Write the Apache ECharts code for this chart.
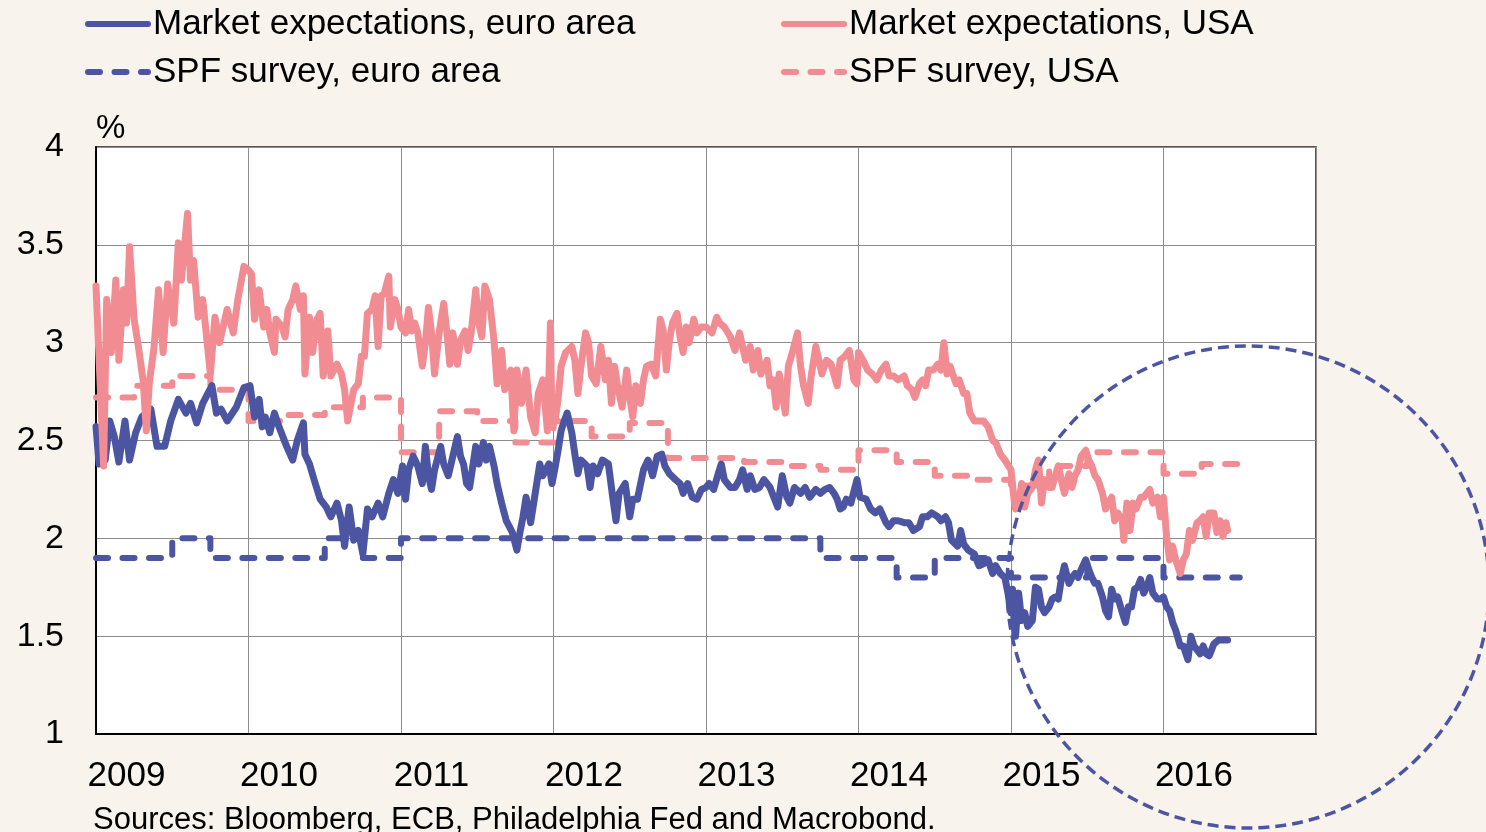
<!DOCTYPE html>
<html>
<head>
<meta charset="utf-8">
<title>Inflation expectations</title>
<script src="https://cdn.jsdelivr.net/npm/echarts@6/dist/echarts.min.js"></script>
<style>
html, body { margin: 0; padding: 0; background: #f8f3ed; }
#chart { width: 1486px; height: 832px; }
</style>
</head>
<body>
<div id="chart"></div>
<script>
// x values are decimal years
var yearLabels = [2009, 2010, 2011, 2012, 2013, 2014, 2015, 2016];

var euroMarket = [
  [2009.00, 2.57], [2009.02, 2.38], [2009.06, 2.40], [2009.09, 2.60], [2009.12, 2.52], [2009.15, 2.39],
  [2009.19, 2.60], [2009.22, 2.40], [2009.26, 2.54], [2009.30, 2.62], [2009.36, 2.66], [2009.40, 2.47],
  [2009.45, 2.47], [2009.49, 2.60], [2009.54, 2.71], [2009.59, 2.64], [2009.62, 2.69], [2009.66, 2.59],
  [2009.70, 2.69], [2009.76, 2.78], [2009.79, 2.64], [2009.82, 2.66], [2009.86, 2.60], [2009.92, 2.67],
  [2009.97, 2.77],
  [2010.01, 2.78], [2010.04, 2.62], [2010.07, 2.71], [2010.09, 2.57], [2010.11, 2.62], [2010.14, 2.54],
  [2010.17, 2.64], [2010.20, 2.57], [2010.25, 2.47], [2010.29, 2.40], [2010.32, 2.50], [2010.36, 2.59],
  [2010.37, 2.43], [2010.40, 2.38], [2010.43, 2.30], [2010.47, 2.20], [2010.51, 2.16], [2010.54, 2.11],
  [2010.58, 2.18], [2010.61, 2.09], [2010.63, 1.96], [2010.66, 2.16], [2010.69, 1.99], [2010.72, 2.04],
  [2010.75, 1.92], [2010.78, 2.15], [2010.81, 2.11], [2010.85, 2.18], [2010.88, 2.11], [2010.92, 2.23],
  [2010.95, 2.30], [2010.98, 2.23],
  [2011.01, 2.37], [2011.02, 2.28], [2011.03, 2.20], [2011.05, 2.35], [2011.08, 2.42], [2011.11, 2.37],
  [2011.14, 2.28], [2011.16, 2.47], [2011.18, 2.32], [2011.20, 2.25], [2011.22, 2.35], [2011.26, 2.47],
  [2011.28, 2.38], [2011.31, 2.32], [2011.34, 2.42], [2011.37, 2.52], [2011.39, 2.42], [2011.41, 2.38],
  [2011.43, 2.28], [2011.45, 2.26], [2011.49, 2.47], [2011.51, 2.38], [2011.54, 2.49], [2011.56, 2.40],
  [2011.58, 2.47], [2011.61, 2.37], [2011.63, 2.28], [2011.66, 2.18], [2011.69, 2.09], [2011.73, 2.03],
  [2011.76, 1.94], [2011.78, 2.03], [2011.80, 2.11], [2011.82, 2.21], [2011.85, 2.08], [2011.87, 2.18],
  [2011.89, 2.28], [2011.91, 2.38], [2011.93, 2.32], [2011.97, 2.38], [2011.99, 2.28],
  [2012.01, 2.36], [2012.03, 2.45], [2012.05, 2.55], [2012.07, 2.60], [2012.09, 2.64], [2012.12, 2.54],
  [2012.14, 2.43], [2012.16, 2.33], [2012.18, 2.40], [2012.22, 2.37], [2012.24, 2.26], [2012.26, 2.37],
  [2012.29, 2.33], [2012.32, 2.40], [2012.36, 2.38], [2012.39, 2.20], [2012.41, 2.09], [2012.43, 2.23],
  [2012.47, 2.28], [2012.50, 2.11], [2012.52, 2.20], [2012.55, 2.20], [2012.59, 2.35], [2012.62, 2.40],
  [2012.65, 2.32], [2012.68, 2.42], [2012.71, 2.43], [2012.73, 2.37], [2012.76, 2.33], [2012.80, 2.30],
  [2012.83, 2.28], [2012.85, 2.23], [2012.88, 2.28], [2012.91, 2.21], [2012.94, 2.20], [2012.97, 2.25],
  [2013.00, 2.26], [2013.02, 2.28], [2013.05, 2.25], [2013.08, 2.33], [2013.10, 2.38], [2013.12, 2.30],
  [2013.16, 2.26], [2013.19, 2.26], [2013.22, 2.30], [2013.24, 2.35], [2013.27, 2.25], [2013.29, 2.32],
  [2013.32, 2.25], [2013.35, 2.26], [2013.38, 2.30], [2013.42, 2.26], [2013.45, 2.20], [2013.47, 2.16],
  [2013.50, 2.32], [2013.53, 2.21], [2013.55, 2.18], [2013.58, 2.26], [2013.62, 2.23], [2013.65, 2.26],
  [2013.68, 2.21], [2013.72, 2.25], [2013.75, 2.23], [2013.78, 2.25], [2013.81, 2.26], [2013.84, 2.23],
  [2013.86, 2.20], [2013.88, 2.15], [2013.90, 2.16], [2013.92, 2.20], [2013.95, 2.18], [2013.99, 2.30],
  [2014.01, 2.21], [2014.05, 2.20], [2014.08, 2.15], [2014.11, 2.13], [2014.14, 2.15], [2014.18, 2.08],
  [2014.20, 2.06], [2014.23, 2.09], [2014.26, 2.09], [2014.30, 2.08], [2014.33, 2.08], [2014.36, 2.04],
  [2014.40, 2.06], [2014.42, 2.11], [2014.45, 2.11], [2014.48, 2.13], [2014.52, 2.11], [2014.54, 2.09],
  [2014.57, 2.11], [2014.59, 2.08], [2014.61, 1.99], [2014.65, 1.96], [2014.67, 2.04], [2014.69, 1.97],
  [2014.72, 1.94], [2014.76, 1.92], [2014.79, 1.86], [2014.82, 1.87], [2014.85, 1.89], [2014.88, 1.82],
  [2014.90, 1.86], [2014.93, 1.82], [2014.96, 1.80], [2014.98, 1.72],
  [2015.00, 1.62], [2015.01, 1.74], [2015.02, 1.58], [2015.03, 1.50], [2015.05, 1.72], [2015.07, 1.58],
  [2015.09, 1.62], [2015.11, 1.55], [2015.14, 1.58], [2015.16, 1.75], [2015.18, 1.74], [2015.20, 1.65],
  [2015.22, 1.62], [2015.25, 1.65], [2015.27, 1.69], [2015.29, 1.70], [2015.31, 1.69], [2015.33, 1.79],
  [2015.35, 1.86], [2015.38, 1.77], [2015.40, 1.80], [2015.42, 1.82], [2015.44, 1.80], [2015.46, 1.84],
  [2015.49, 1.89], [2015.51, 1.84], [2015.53, 1.80], [2015.55, 1.77], [2015.57, 1.77], [2015.60, 1.70],
  [2015.62, 1.63], [2015.64, 1.60], [2015.66, 1.74], [2015.68, 1.69], [2015.70, 1.70], [2015.73, 1.62],
  [2015.75, 1.57], [2015.77, 1.65], [2015.79, 1.65], [2015.81, 1.74], [2015.83, 1.75], [2015.85, 1.79],
  [2015.87, 1.72], [2015.89, 1.75], [2015.91, 1.80], [2015.93, 1.72], [2015.96, 1.69], [2015.98, 1.69],
  [2016.00, 1.70], [2016.02, 1.65], [2016.04, 1.63], [2016.06, 1.57], [2016.08, 1.53], [2016.11, 1.45],
  [2016.13, 1.45], [2016.16, 1.38], [2016.18, 1.50], [2016.20, 1.45], [2016.24, 1.41], [2016.26, 1.45],
  [2016.28, 1.41], [2016.30, 1.40], [2016.33, 1.46], [2016.36, 1.48], [2016.39, 1.48], [2016.42, 1.48]
];

var usaMarket = [
  [2009.00, 3.29], [2009.05, 2.37], [2009.07, 3.22], [2009.10, 2.95], [2009.13, 3.32], [2009.15, 2.91],
  [2009.18, 3.27], [2009.20, 3.10], [2009.22, 3.49], [2009.25, 3.12], [2009.28, 2.97], [2009.31, 2.80],
  [2009.33, 2.55], [2009.35, 2.80], [2009.38, 2.97], [2009.41, 3.27], [2009.44, 2.95], [2009.47, 3.30],
  [2009.51, 3.10], [2009.54, 3.51], [2009.56, 3.32], [2009.60, 3.66], [2009.62, 3.32], [2009.64, 3.42],
  [2009.67, 3.13], [2009.70, 3.22], [2009.75, 2.84], [2009.78, 3.13], [2009.81, 3.00], [2009.86, 3.17],
  [2009.90, 3.05], [2009.93, 3.22], [2009.97, 3.39],
  [2010.00, 3.37], [2010.02, 3.35], [2010.04, 3.12], [2010.07, 3.27], [2010.10, 3.08], [2010.12, 3.17],
  [2010.14, 3.05], [2010.17, 2.95], [2010.18, 3.12], [2010.22, 3.08], [2010.24, 3.03], [2010.26, 3.17],
  [2010.29, 3.22], [2010.31, 3.29], [2010.34, 3.17], [2010.36, 3.24], [2010.37, 2.84], [2010.40, 3.13],
  [2010.42, 2.95], [2010.45, 3.12], [2010.47, 3.15], [2010.49, 2.83], [2010.52, 3.06], [2010.54, 2.83],
  [2010.58, 2.89], [2010.61, 2.84], [2010.63, 2.76], [2010.65, 2.60], [2010.69, 2.76], [2010.72, 2.79],
  [2010.74, 2.93], [2010.76, 2.93], [2010.78, 3.15], [2010.81, 3.17], [2010.83, 3.24], [2010.85, 2.98],
  [2010.87, 3.24], [2010.89, 3.25], [2010.92, 3.34], [2010.93, 3.08], [2010.96, 3.22], [2010.98, 3.17],
  [2011.00, 3.08], [2011.03, 3.05], [2011.05, 3.17], [2011.07, 3.06], [2011.09, 3.10], [2011.11, 3.05],
  [2011.14, 2.88], [2011.16, 3.00], [2011.18, 3.18], [2011.20, 3.05], [2011.22, 2.84], [2011.25, 3.05],
  [2011.28, 3.20], [2011.30, 3.06], [2011.32, 2.89], [2011.34, 3.05], [2011.37, 2.89], [2011.39, 3.01],
  [2011.42, 3.06], [2011.44, 2.96], [2011.46, 3.05], [2011.49, 3.27], [2011.51, 3.10], [2011.53, 3.03],
  [2011.55, 3.29], [2011.58, 3.22], [2011.61, 3.01], [2011.63, 2.79], [2011.66, 2.96], [2011.68, 2.76],
  [2011.72, 2.86], [2011.74, 2.55], [2011.76, 2.86], [2011.79, 2.69], [2011.82, 2.86], [2011.85, 2.62],
  [2011.88, 2.54], [2011.90, 2.74], [2011.93, 2.81], [2011.96, 2.55], [2011.98, 3.10], [2011.99, 2.57],
  [2012.01, 2.60], [2012.03, 2.71], [2012.05, 2.88], [2012.08, 2.95], [2012.12, 2.98], [2012.14, 2.91],
  [2012.16, 2.74], [2012.18, 2.88], [2012.21, 3.05], [2012.23, 3.00], [2012.25, 2.83], [2012.28, 2.79],
  [2012.31, 2.98], [2012.34, 2.81], [2012.36, 2.91], [2012.38, 2.69], [2012.40, 2.88], [2012.42, 2.78],
  [2012.45, 2.67], [2012.48, 2.86], [2012.50, 2.72], [2012.52, 2.62], [2012.54, 2.78], [2012.57, 2.69],
  [2012.59, 2.81], [2012.61, 2.88], [2012.64, 2.89], [2012.67, 2.83], [2012.70, 3.12], [2012.72, 3.06],
  [2012.74, 2.86], [2012.76, 3.01], [2012.78, 3.10], [2012.81, 3.15], [2012.83, 3.03], [2012.85, 2.95],
  [2012.87, 3.08], [2012.89, 3.00], [2012.92, 3.12], [2012.94, 3.05], [2012.97, 3.08],
  [2013.00, 3.08], [2013.04, 3.05], [2013.07, 3.13], [2013.09, 3.10], [2013.12, 3.08], [2013.16, 3.03],
  [2013.19, 2.96], [2013.22, 3.05], [2013.26, 2.91], [2013.29, 2.98], [2013.31, 2.86], [2013.34, 2.96],
  [2013.36, 2.84], [2013.40, 2.91], [2013.42, 2.78], [2013.44, 2.81], [2013.46, 2.67], [2013.48, 2.84],
  [2013.52, 2.64], [2013.54, 2.88], [2013.57, 2.96], [2013.60, 3.05], [2013.62, 2.88], [2013.64, 2.78],
  [2013.67, 2.69], [2013.69, 2.83], [2013.72, 2.98], [2013.74, 2.91], [2013.76, 2.84], [2013.79, 2.91],
  [2013.82, 2.89], [2013.86, 2.78], [2013.88, 2.91], [2013.91, 2.93], [2013.94, 2.96], [2013.97, 2.81],
  [2013.99, 2.79],
  [2014.00, 2.95], [2014.03, 2.91], [2014.06, 2.86], [2014.09, 2.84], [2014.12, 2.81], [2014.15, 2.86],
  [2014.18, 2.89], [2014.20, 2.83], [2014.23, 2.83], [2014.26, 2.81], [2014.30, 2.83], [2014.32, 2.78],
  [2014.35, 2.76], [2014.37, 2.72], [2014.40, 2.79], [2014.42, 2.81], [2014.44, 2.78], [2014.46, 2.86],
  [2014.49, 2.86], [2014.52, 2.89], [2014.54, 2.86], [2014.56, 3.00], [2014.58, 2.84], [2014.60, 2.88],
  [2014.64, 2.79], [2014.66, 2.81], [2014.69, 2.74], [2014.71, 2.74], [2014.73, 2.64], [2014.76, 2.60],
  [2014.79, 2.60], [2014.82, 2.60], [2014.85, 2.57], [2014.88, 2.50], [2014.90, 2.49], [2014.93, 2.43],
  [2014.96, 2.40], [2015.00, 2.35], [2015.02, 2.20], [2015.03, 2.15],
  [2015.05, 2.18], [2015.07, 2.28], [2015.09, 2.16], [2015.11, 2.23], [2015.14, 2.26], [2015.16, 2.35],
  [2015.18, 2.40], [2015.20, 2.18], [2015.22, 2.30], [2015.25, 2.26], [2015.27, 2.26], [2015.29, 2.32],
  [2015.31, 2.37], [2015.33, 2.30], [2015.35, 2.23], [2015.38, 2.33], [2015.40, 2.26], [2015.42, 2.32],
  [2015.44, 2.35], [2015.46, 2.42], [2015.49, 2.45], [2015.51, 2.40], [2015.53, 2.37], [2015.55, 2.32],
  [2015.57, 2.30], [2015.60, 2.23], [2015.62, 2.15], [2015.64, 2.18], [2015.66, 2.21], [2015.68, 2.09],
  [2015.70, 2.13], [2015.73, 2.09], [2015.74, 1.99], [2015.76, 2.18], [2015.78, 2.04], [2015.80, 2.18],
  [2015.82, 2.15], [2015.85, 2.21], [2015.87, 2.21], [2015.89, 2.23], [2015.91, 2.25], [2015.93, 2.18],
  [2015.96, 2.21], [2015.98, 2.11],
  [2016.00, 2.21], [2016.02, 2.01], [2016.04, 1.89], [2016.06, 1.96], [2016.08, 1.89], [2016.11, 1.82],
  [2016.13, 1.89], [2016.15, 1.92], [2016.17, 2.04], [2016.19, 1.99], [2016.22, 2.08], [2016.24, 2.09],
  [2016.26, 2.11], [2016.28, 2.01], [2016.30, 2.13], [2016.33, 2.13], [2016.35, 2.03], [2016.37, 2.09],
  [2016.39, 2.01], [2016.41, 2.08], [2016.42, 2.04]
];

// SPF surveys, one value per quarter from 2009 Q1 to 2016 Q2
var spfStart = 2009;
var spfEuro = [
  1.9, 1.9, 2.0, 1.9,
  1.9, 1.9, 2.0, 1.9,
  2.0, 2.0, 2.0, 2.0,
  2.0, 2.0, 2.0, 2.0,
  2.0, 2.0, 2.0, 1.9,
  1.9, 1.8, 1.9, 1.9,
  1.8, 1.8, 1.9, 1.9,
  1.8, 1.8
];
var spfUsa = [
  2.72, 2.78, 2.83, 2.76,
  2.60, 2.63, 2.67, 2.72,
  2.44, 2.65, 2.60, 2.49,
  2.60, 2.52, 2.59, 2.41,
  2.41, 2.39, 2.37, 2.35,
  2.45, 2.39, 2.32, 2.30,
  2.27, 2.37, 2.44, 2.44,
  2.33, 2.38
];

var BLUE = '#4b55a2';
var PINK = '#f18c93';
var FONT = 'Liberation Sans, Arial, sans-serif';
var DASH = [12, 14.5];

function quarterly(vals) {
  var out = vals.map(function (v, i) { return [spfStart + i * 0.25, v]; });
  out.push([spfStart + vals.length * 0.25, vals[vals.length - 1]]);
  return out;
}

var myChart = echarts.init(document.getElementById('chart'));

var legendText = { fontSize: 35, color: '#000', fontFamily: FONT, lineHeight: 40 };

var option = {
  backgroundColor: '#f8f3ed',
  animation: false,
  textStyle: { fontFamily: FONT },
  grid: {
    left: 96, right: 170, top: 147, bottom: 98,
    show: true, backgroundColor: '#ffffff', borderColor: '#222', borderWidth: 1.5
  },
  legend: [
    {
      left: 85, top: 4, orient: 'vertical', padding: 0, itemGap: 8,
      itemWidth: 60, itemHeight: 14, textStyle: legendText,
      itemStyle: { opacity: 0 },
      lineStyle: { width: 6 },
      data: ['Market expectations, euro area', 'SPF survey, euro area']
    },
    {
      left: 781, top: 4, orient: 'vertical', padding: 0, itemGap: 8,
      itemWidth: 60, itemHeight: 14, textStyle: legendText,
      itemStyle: { opacity: 0 },
      lineStyle: { width: 6 },
      data: ['Market expectations, USA', 'SPF survey, USA']
    }
  ],
  xAxis: {
    type: 'value', min: 2009, max: 2017, interval: 1,
    axisLine: { show: true, onZero: false, lineStyle: { color: '#000', width: 2 } },
    axisTick: { show: false },
    splitLine: { show: true, lineStyle: { color: '#8c8c8c', width: 1 } },
    axisLabel: {
      customValues: yearLabels.map(function (y) { return y + 0.2; }),
      formatter: function (v) { return String(Math.floor(v)); },
      fontSize: 35, color: '#000', margin: 25, fontFamily: FONT
    }
  },
  yAxis: {
    type: 'value', min: 1, max: 4, interval: 0.5,
    axisLine: { show: true, lineStyle: { color: '#000', width: 2 } },
    axisTick: { show: false },
    splitLine: { lineStyle: { color: '#8c8c8c', width: 1 } },
    axisLabel: { fontSize: 34, color: '#000', margin: 32, fontFamily: FONT }
  },
  series: [
    {
      name: 'SPF survey, euro area', type: 'line', step: 'end', symbol: 'none',
      data: quarterly(spfEuro),
      lineStyle: { color: BLUE, width: 6, type: DASH, cap: 'round', join: 'round' },
      itemStyle: { color: BLUE }
    },
    {
      name: 'SPF survey, USA', type: 'line', step: 'end', symbol: 'none',
      data: quarterly(spfUsa),
      lineStyle: { color: PINK, width: 6, type: DASH, cap: 'round', join: 'round' },
      itemStyle: { color: PINK }
    },
    {
      name: 'Market expectations, euro area', type: 'line', symbol: 'none',
      data: euroMarket,
      lineStyle: { color: BLUE, width: 7, cap: 'round', join: 'round' },
      itemStyle: { color: BLUE }
    },
    {
      name: 'Market expectations, USA', type: 'line', symbol: 'none',
      data: usaMarket,
      lineStyle: { color: PINK, width: 7, cap: 'round', join: 'round' },
      itemStyle: { color: PINK }
    }
  ],
  graphic: [
    {
      type: 'text', left: 96, top: 112, z: 10,
      style: { text: '%', fontSize: 33, fill: '#000', fontFamily: FONT }
    },
    {
      type: 'text', left: 93, top: 805, z: 10,
      style: { text: 'Sources: Bloomberg, ECB, Philadelphia Fed and Macrobond.', fontSize: 31, fill: '#000', fontFamily: FONT }
    },
    {
      type: 'circle', z: 100,
      shape: { cx: 1248, cy: 587, r: 241 },
      style: { fill: 'none', stroke: BLUE, lineWidth: 3.5, lineDash: [11, 6] }
    }
  ]
};

myChart.setOption(option);
</script>
</body>
</html>
